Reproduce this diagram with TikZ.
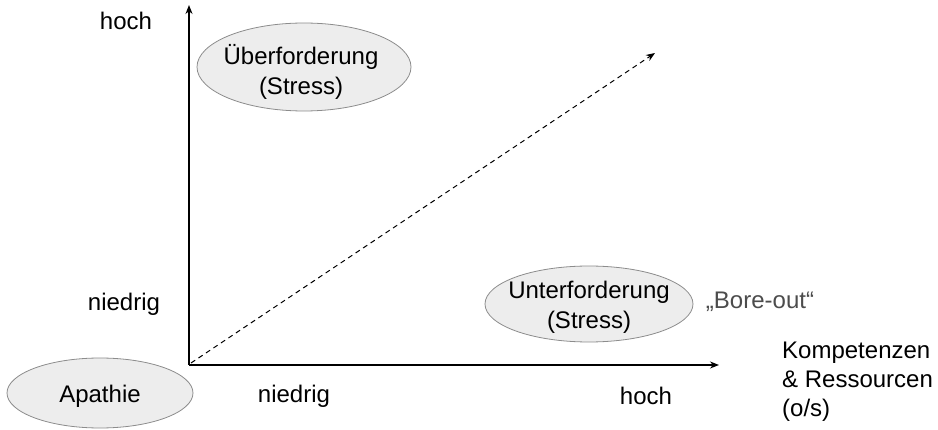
\documentclass[tikz,border=0pt]{standalone}
\usepackage{fontspec}
\setmainfont{Liberation Sans}
\usetikzlibrary{arrows.meta,shapes.geometric}
\begin{document}
\begin{tikzpicture}[x=1pt,y=-1pt,
  lbl/.style={font=\fontsize{24}{30}\selectfont, inner sep=0pt},
  oval/.style={ellipse, draw=black!45, fill=black!7, line width=0.8pt, inner sep=0pt},
  axis/.style={line width=1.4pt, -{Stealth[length=9pt,width=7pt]}},
  diag/.style={line width=1pt, dashed, dash pattern=on 5pt off 4pt, -{Stealth[length=9pt,width=7pt]}}]
\useasboundingbox (0,0) rectangle (938,430);
\coordinate (O) at (189,365);
\coordinate (ytop) at (189,5);
\coordinate (xend) at (719,365);
\coordinate (dstart) at (191,363);
\coordinate (dend) at (655,53);
\draw[axis] (O) -- (ytop);
\draw[axis] (O) -- (xend);
\draw[diag] (dstart) -- (dend);

\node[oval, minimum width=214pt, minimum height=88pt] (ueber) at (304,67) {};
\node[lbl, align=center] (ueberT) at (301,72) {Überforderung\\(Stress)};
\node[oval, minimum width=208pt, minimum height=76pt] (unter) at (589,304) {};
\node[lbl, align=center] (unterT) at (589,307) {Unterforderung\\(Stress)};
\node[oval, minimum width=186pt, minimum height=70pt] (apa) at (100,393) {};
\node[lbl] (apaT) at (100,396) {Apathie};

\node[lbl, text=black!70] (bore) at (760,302) {„Bore-out“};
\node[lbl] (yhoch) at (126,21) {hoch};
\node[lbl] (yniedrig) at (124,304) {niedrig};
\node[lbl] (xniedrig) at (294,396) {niedrig};
\node[lbl] (xhoch) at (646,396) {hoch};
\node[lbl, align=left, anchor=north west, font=\fontsize{24}{29}\selectfont] (komp) at (782,342) {Kompetenzen\\\& Ressourcen\\(o/s)};
\end{tikzpicture}
\end{document}
